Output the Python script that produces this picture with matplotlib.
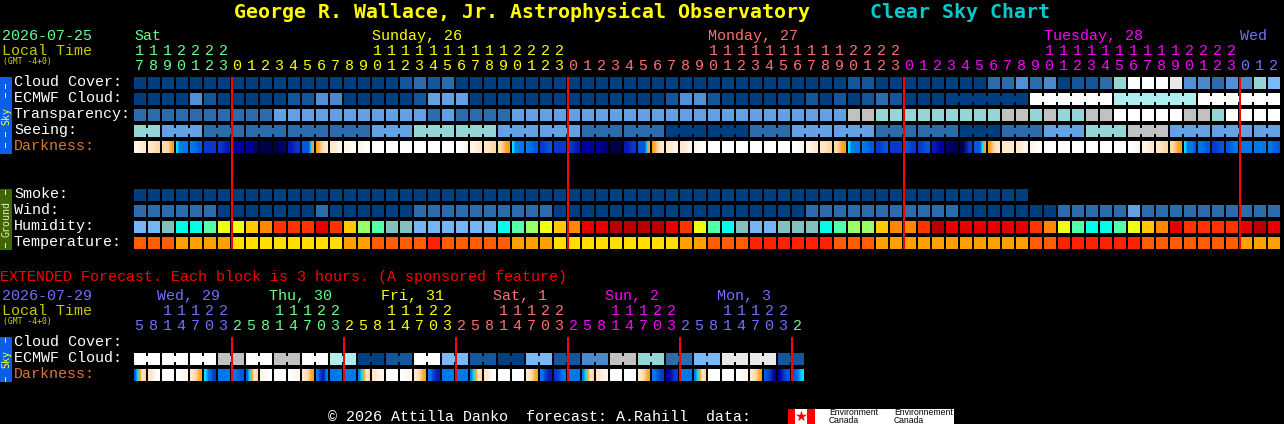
import numpy as np
import matplotlib
matplotlib.use("Agg")
import matplotlib.pyplot as plt
from matplotlib.colors import to_rgb

# cloud style scale, used by cover, transparency, seeing, smoke, wind
sky_colors = ["#003f7f", "#13569b", "#2c6cac", "#4c88cc", "#5090d8", "#63a1e4",
              "#7ab8f8", "#95d5d5", "#c1c1c1", "#e9e9e9", "#ffffff", "#aeeeee"]
humid_colors = ["#75b5f5", "#84c0c0", "#00ffe6", "#55ffaa", "#99ff66", "#eeff11",
                "#ffc800", "#ff8800", "#ff3300", "#e60000", "#b80000"]
temp_colors = ["#ff2200", "#ff5d00", "#ffa000", "#ffde00"]
dark_colors = {"W": "#ffffff", "c": "#fff6ea", "d": "#ffe8cc", "e": "#ffd8a8", "o": "#ffa020",
               "y": "#00e0ff", "b": "#0078e8", "m": "#0058dc", "n": "#0a38cc", "p": "#0818b8",
               "q": "#0000a0", "r": "#000070", "s": "#000048"}

cloud_cover = [0,0,0,0,0,0,0,0,0,0, 0,0,0,0,0,0,0,0,0,1, 2,1,2,0,0,0,0,0,0,0,
               0,0,0,0,0,0,0,0,0,0, 0,0,0,0,0,0,0,0,0,0, 0,1,1,0,0,0,0,0,0,0,
               0,2,2,4,2,3,0,1,1,2, 7,10,10,10,9,4,3,2,4,3,7,6]
ecmwf_cloud = [0,0,0,0,4,1,0,0,0,0, 0,1,1,4,3,0,0,0,0,0, 1,5,5,5,0,0,0,0,0,0,
               0,0,0,0,0,0,0,0,1,4, 4,1,0,0,0,0,0,0,1,0, 1,0,1,2,1,0,0,0,0,0,
               0,0,0,0,10,10,10,10,10,10, 11,11,11,11,11,11,10,10,10,10,10,10]
transparency = [2,2,2,2,2,2,2,2,2,2, 5,5,5,5,5,5,5,5,5,5, 5,2,5,2,2,2,2,5,5,5,
                5,5,5,5,5,5,5,5,5,5, 5,5,5,5,5,5,5,5,5,5, 5,8,8,7,7,7,7,7,7,7,
                7,7,8,8,7,8,7,7,8,8, 10,10,10,10,10,8,8,7,10,10,10,10]
seeing_blocks = [7,5,2,2,2,2,5,7,7,5,5,2,2,0,0,2,5,5,2,2,0,2,5,7,8,5,5,5]
seeing_spans = [2] + [3]*26 + [2]
smoke = [0]*64
wind = [2,2,2,2,2,2,0,0,0,0, 0,0,0,2,0,0,0,0,0,0, 2,2,2,2,2,2,2,2,2,2,
        0,0,0,0,0,0,0,0,0,0, 0,0,0,0,0,0,0,0,2,2, 2,2,2,2,2,2,2,2,2,0,
        0,0,0,0,0,0,2,2,2,2, 2,5,2,2,2,2,2,2,2,2,2,2]
humidity = [0,0,1,2,2,3,5,5,6,7, 8,8,8,9,8,6,4,3,1,1, 0,0,0,0,0,0,2,3,4,5,
            6,7,9,9,10,10,10,10,9,8, 5,3,2,1,0,0,1,1,1,2, 3,4,4,6,7,7,8,10,9,9,
            9,9,9,9,8,7,5,3,2,2, 3,5,6,7,9,8,8,8,8,9,10,9]
temperature = [1,1,1,2,2,2,2,3,3,3, 3,3,3,3,3,2,2,1,1,1, 1,0,1,1,1,1,1,2,2,2,
               3,3,3,3,3,3,3,3,3,2, 2,1,1,1,0,0,0,0,0,0, 1,1,1,2,2,2,2,2,2,2,
               2,2,2,2,1,1,0,0,0,0, 0,0,1,1,1,1,1,1,1,2,2,2]
darkness = ["cd","de","eeo","ybbbb","bm","nn","np","qq","qr","ss","sr","pn","mmmmyo","oed","dc","cW","cW",
            "W","W","W","W","W","W","Wc","cd","de","eo","ybbbb","bm","nm","nn","np","qq","qr","ss","pn",
            "mmmmyo","oed","dc","dc","cW","W","W","W","W","W","W","Wc","cd","de","eo","ybbbb","bm","nm",
            "nn","mn","nm","pq","rs","sn","mmmyo","oed","dd","dc","cW","W","W","W","W","W","W","Wc","cd",
            "de","eo","ybbbm","bm","nm","mb","bb","bb","bm"]

ext_ecmwf = [10,10,10,8,10,8,10,11,0,1,10,6,1,0,6,1,3,8,7,2,6,9,9,1]
ext_darkness = ["myode","dW","W","Wc","deo","ybmn","bb","bm","myode","cW","W","Wc","deo","bnpb","bb","bb",
                "byode","dc","W","Wc","deo","bnp","bb","bb","byode","dW","W","W","deo","bnp","nb","bb",
                "byode","dc","W","W","deo","bmn","qn","bb","byode","W","W","Wc","deo","mnq","qnm","mby"]

day = list(range(24))
hours = list(range(17, 24)) + day + day + day + [0, 1, 2]
hour_spans = [7, 24, 24, 24, 3]
hour_colors = ["#66ff88", "#ffff00", "#ff7070", "#ff00ff", "#7070ff"]
day_labels = ["Sat", "Sunday, 26", "Monday, 27", "Tuesday, 28", "Wed"]
day_label_x = [134, 372, 708, 1044, 1240]

ext_hours = [5,8,11,14,17,20,23] + [2,5,8,11,14,17,20,23]*5 + [2]
ext_spans = [7, 8, 8, 8, 8, 8, 1]
ext_colors = ["#7070ff", "#66ff88", "#ffff00", "#ff7070", "#ff00ff", "#7070ff", "#66ff88"]
ext_labels = ["Wed, 29", "Thu, 30", "Fri, 31", "Sat, 1", "Sun, 2", "Mon, 3"]
ext_label_x = [157, 269, 381, 493, 605, 717]

X0 = 134
MONO = "Liberation Mono"
FS = 10.8

fig = plt.figure(figsize=(12.84, 4.24), dpi=100, facecolor="black")
ax = fig.add_axes([0, 0, 1, 1])
ax.set_facecolor("black")
ax.axis("off")


def txt(x, y, s, color="white", size=FS, family=MONO, **kw):
    kw.setdefault("ha", "left")
    ax.text(x, y, s, color=color, fontsize=size, family=family, va="baseline", **kw)


def block(x, y, w, h, color, zorder=1):
    ax.bar(x, h, width=w, bottom=y, align="edge", color=color, linewidth=0, antialiased=False, zorder=zorder)


def draw_row(values, palette, y, bridges=(), pitch=14):
    xs = X0 + pitch*np.arange(len(values))
    cols = [palette[v] for v in values]
    block(xs, y, 12, 12, cols)
    for i in bridges:
        block(xs[i]+12, y+3, 2, 6, cols[i])


def draw_dark(cells, y):
    for i, cell in enumerate(cells):
        rgb = np.array([[to_rgb(dark_colors[c]) for c in cell]])
        x = X0 + 14*i
        ax.imshow(rgb, extent=(x, x+12, y+12, y), aspect="auto", interpolation="bilinear", zorder=2)


def hour_labels(hr, spans, colors, y_tens, y_ones):
    cols = np.repeat(colors, spans)
    for i, h in enumerate(hr):
        x = X0 + 14*i + 5
        if h >= 10:
            txt(x, y_tens, str(h//10), cols[i], ha="center")
        txt(x, y_ones, str(h % 10), cols[i], ha="center")


# main block
draw_row(cloud_cover, sky_colors, 77)
draw_row(ecmwf_cloud, sky_colors, 93, [i for i in range(58, 81) if (i-58) % 6 != 5])
draw_row(transparency, sky_colors, 109)
seeing = np.repeat(seeing_blocks, seeing_spans)
draw_row(seeing, sky_colors, 125, [i for i in range(81) if (i-2) % 3 != 2])
draw_dark(darkness, 141)
draw_row(smoke, sky_colors, 189)
draw_row(wind, sky_colors, 205)
draw_row(humidity, humid_colors, 221)
draw_row(temperature, temp_colors, 237)
block(np.array([231, 567, 903, 1239]), 77, 2, 172, "#ff0000", zorder=3)

# extended block
ext_seq = np.repeat(ext_ecmwf, 2)
draw_row(ext_seq, sky_colors, 353, list(range(0, 47, 2)))
draw_dark(ext_darkness, 369)
block(np.array([231, 343, 455, 567, 679, 791]), 337, 2, 44, "#ff0000", zorder=3)

# headers
txt(234, 18, "George R. Wallace, Jr. Astrophysical Observatory", "#ffff00", 14.35, "DejaVu Sans Mono", fontweight="bold")
txt(870, 18, "Clear Sky Chart", "#00cccc", 14.35, "DejaVu Sans Mono", fontweight="bold")
txt(2, 40, "2026-07-25", "#66ff88")
txt(2, 55, "Local Time", "#c8c800")
txt(3, 64, "(GMT -4+0)", "#d8d800", 5.8, "DejaVu Sans Mono")
for lab, x, c in zip(day_labels, day_label_x, hour_colors):
    txt(x, 40, lab, c)
hour_labels(hours, hour_spans, hour_colors, 55, 70)

for y, lab, c in [(86, "Cloud Cover:", "white"), (102, "ECMWF Cloud:", "white"), (118, "Transparency:", "white"),
                  (134, "Seeing:", "white"), (150, "Darkness:", "#d87838"), (198, "Smoke:", "white"),
                  (214, "Wind:", "white"), (230, "Humidity:", "white"), (246, "Temperature:", "white"),
                  (346, "Cloud Cover:", "white"), (362, "ECMWF Cloud:", "white"), (378, "Darkness:", "#d87838")]:
    txt(14, y, lab, c)

txt(0, 281, "EXTENDED Forecast. Each block is 3 hours. (A sponsored feature)", "#ff0000")
txt(2, 300, "2026-07-29", "#7070ff")
txt(2, 315, "Local Time", "#c8c800")
txt(3, 324, "(GMT -4+0)", "#d8d800", 5.8, "DejaVu Sans Mono")
for lab, x, c in zip(ext_labels, ext_label_x, ext_colors):
    txt(x, 300, lab, c)
hour_labels(ext_hours, ext_spans, ext_colors, 315, 330)

# side tabs, dashes then rotated word
for y0, y1, fc, lab, ymid, dashes, tc in [
        (77, 154, "#0a5fe6", "Sky", 116, [84, 93, 132, 143], "#ffff33"),
        (189, 250, "#3f6600", "Ground", 219, [190, 243], "#e8e8c8"),
        (337, 382, "#0a5fe6", "Sky", 359, [338, 377], "#ffff33")]:
    block(0, y0, 12, y1-y0, fc)
    block(5, np.array(dashes), 1, 5, tc, zorder=2)
    ax.text(6, ymid, lab, color=tc, fontsize=7.2, family="DejaVu Sans Mono", rotation=90, ha="center", va="center")

# footer
txt(328, 421, "\u00a9 2026 Attilla Danko  forecast: A.Rahill  data:")
block(788, 409, 166, 15, "white")
block(np.array([788, 807]), 409, np.array([7, 8]), 15, "#ff0000")
ax.scatter([801], [416], marker="*", s=70, color="#ff0000", linewidths=0, zorder=3)
for x, word in [(829, "Environment"), (894, "Environnement")]:
    txt(x, 415, word, "black", 6.2, "Liberation Sans")
    txt(x, 423, "Canada", "black", 6.2, "Liberation Sans", clip_on=True)

ax.set_xlim(0, 1284)
ax.set_ylim(424, 0)
fig.savefig("out.png", dpi=100, facecolor="black")
